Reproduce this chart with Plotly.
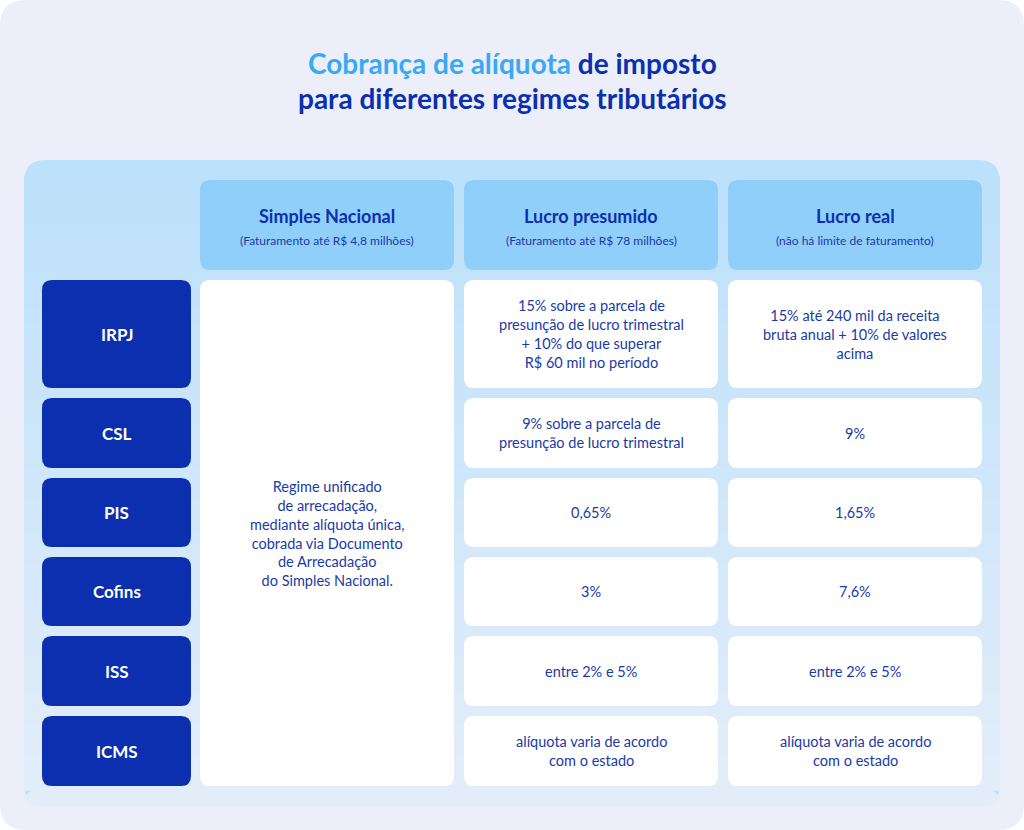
import plotly.graph_objects as go

W, H = 1024, 830

row_labels = ["IRPJ", "CSL", "PIS", "Cofins", "ISS", "ICMS"]
col_titles = ["Simples Nacional", "Lucro presumido", "Lucro real"]
col_subtitles = ["(Faturamento até R$ 4,8 milhões)",
                 "(Faturamento até R$ 78 milhões)",
                 "(não há limite de faturamento)"]
simples_text = ("Regime unificado<br>de arrecadação,<br>mediante alíquota única,<br>"
                "cobrada via Documento<br>de Arrecadação<br>do Simples Nacional.")
presumido = ["15% sobre a parcela de<br>presunção de lucro trimestral<br>+ 10% do que superar<br>R$ 60 mil no período",
             "9% sobre a parcela de<br>presunção de lucro trimestral",
             "0,65%", "3%", "entre 2% e 5%",
             "alíquota varia de acordo<br>com o estado"]
real = ["15% até 240 mil da receita<br>bruta anual + 10% de valores<br>acima",
        "9%", "1,65%", "7,6%", "entre 2% e 5%",
        "alíquota varia de acordo<br>com o estado"]

# layout geometry (pixels)
row_tops = [280, 398, 478, 557, 636, 716]
row_bots = [388, 468, 547, 626, 706, 786]
col_x = [(200, 454), (464, 718), (728, 982)]
label_x = (42, 191)

DARK = "#0b2fae"
TXT = "#1a3aa8"
FONT = "Lato"


def rrect(x0, y0, x1, y1, r, fill):
    p = (f"M{x0+r},{y0} L{x1-r},{y0} Q{x1},{y0} {x1},{y0+r} L{x1},{y1-r} Q{x1},{y1} {x1-r},{y1} "
         f"L{x0+r},{y1} Q{x0},{y1} {x0},{y1-r} L{x0},{y0+r} Q{x0},{y0} {x0+r},{y0} Z")
    return dict(type="path", path=p, xref="x", yref="y", fillcolor=fill, line=dict(width=0), layer="below")


shapes = [rrect(0, 0, W, H, 26, "#eceffa")]
# gradient panel via strips
top, bot = (188, 225, 250), (228, 238, 251)
n = 40
y0p, y1p = 160, 806
shapes.append(rrect(24, y0p, 1000, y1p, 22, "rgb(%d,%d,%d)" % top))
for i in range(1, n):
    t = i / n
    c = tuple(int(top[k] + (bot[k] - top[k]) * t) for k in range(3))
    ya = y0p + (y1p - y0p) * t
    yb = y0p + (y1p - y0p) * (i + 1) / n
    if i == n - 1:
        shapes.append(rrect(24, ya, 1000, y1p, 15, "rgb(%d,%d,%d)" % c))
    else:
        shapes.append(dict(type="rect", x0=24, x1=1000, y0=ya, y1=yb + 1, xref="x", yref="y",
                           fillcolor="rgb(%d,%d,%d)" % c, line=dict(width=0), layer="below"))

ann = []
for (xa, xb), t, s in zip(col_x, col_titles, col_subtitles):
    shapes.append(rrect(xa, 180, xb, 270, 10, "#8fcffa"))
    cx = (xa + xb) / 2
    ann.append(dict(x=cx, y=216, text=f"<b>{t}</b>", font=dict(size=18, color=DARK, family=FONT)))
    ann.append(dict(x=cx, y=240, text=s, font=dict(size=12, color=TXT, family=FONT)))

for lab, ya, yb in zip(row_labels, row_tops, row_bots):
    shapes.append(rrect(label_x[0], ya, label_x[1], yb, 10, DARK))
    ann.append(dict(x=sum(label_x) / 2, y=(ya + yb) / 2, text=f"<b>{lab}</b>",
                    font=dict(size=17, color="white", family=FONT)))
    for (xa, xb), txt in zip(col_x[1:], [presumido[row_labels.index(lab)], real[row_labels.index(lab)]]):
        shapes.append(rrect(xa, ya, xb, yb, 10, "white"))
        ann.append(dict(x=(xa + xb) / 2, y=(ya + yb) / 2, text=txt,
                        font=dict(size=14.5, color=TXT, family=FONT)))

shapes.append(rrect(col_x[0][0], row_tops[0], col_x[0][1], row_bots[-1], 10, "white"))
ann.append(dict(x=sum(col_x[0]) / 2, y=(row_tops[0] + row_bots[-1]) / 2, text=simples_text,
                font=dict(size=14.5, color=TXT, family=FONT)))

ann.append(dict(x=W / 2, y=63, text="<b><span style='color:#3aa8f5'>Cobrança de alíquota</span> de imposto</b>",
                font=dict(size=28, color=DARK, family=FONT)))
ann.append(dict(x=W / 2, y=98, text="<b>para diferentes regimes tributários</b>",
                font=dict(size=28, color=DARK, family=FONT)))

for a in ann:
    a.update(xref="x", yref="y", showarrow=False, xanchor="center", yanchor="middle", align="center")

fig = go.Figure()
fig.update_layout(width=W, height=H, margin=dict(l=0, r=0, t=0, b=0),
                  paper_bgcolor="white", plot_bgcolor="white",
                  xaxis=dict(range=[0, W], visible=False, fixedrange=True),
                  yaxis=dict(range=[H, 0], visible=False, fixedrange=True),
                  shapes=shapes, annotations=ann, showlegend=False)
fig.write_html("out.html", config={"displayModeBar": False},
               post_script="document.body.style.margin='0';document.body.style.overflow='hidden';")
